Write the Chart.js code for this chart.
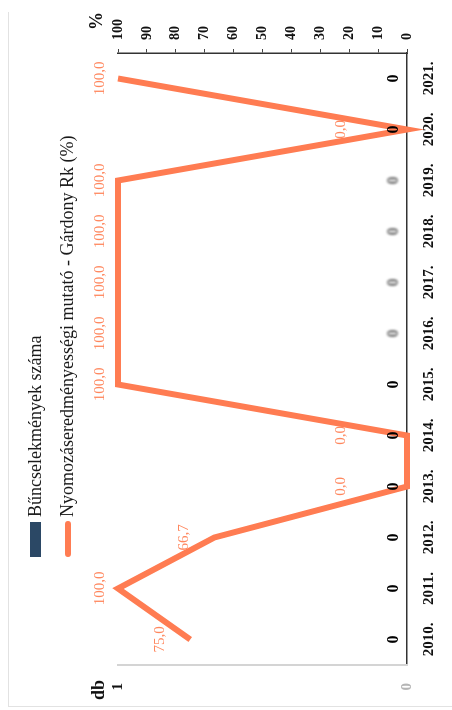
<!DOCTYPE html>
<html>
<head>
<meta charset="utf-8">
<script src="https://cdn.jsdelivr.net/npm/chart.js@4"></script>
<style>
  html, body { margin: 0; padding: 0; background: #fff; overflow: hidden; }
  #page { position: absolute; left: 0; top: 0; width: 452px; height: 710px; }
  #frameLeft { position: absolute; left: 8px; top: 12px; width: 1px; height: 694px; background: #e2e2e2; }
  #frameBottom { position: absolute; left: 8px; top: 706px; width: 444px; height: 1px; background: #e2e2e2; }
  /* chart is drawn in landscape and turned a quarter left, like the scanned page */
  #rot { position: absolute; left: 0; top: 0; width: 710px; height: 452px;
         transform-origin: 0 0; transform: translateY(710px) rotate(-90deg); }
</style>
</head>
<body>
<div id="page">
  <div id="frameLeft"></div>
  <div id="frameBottom"></div>
  <div id="rot"><canvas id="chart" width="710" height="452"></canvas></div>
</div>
<script>
// --- data ---
const years = ["2010.", "2011.", "2012.", "2013.", "2014.", "2015.", "2016.", "2017.", "2018.", "2019.", "2020.", "2021."];
const crimeCounts = [0, 0, 0, 0, 0, 0, 0, 0, 0, 0, 0, 0];
const clearanceRate = [75.0, 100.0, 66.7, 0.0, 0.0, 100.0, 100.0, 100.0, 100.0, 100.0, 0.0, 100.0];
const countTicks = [0, 1];
const percentTicks = [0, 10, 20, 30, 40, 50, 60, 70, 80, 90, 100];
const fadedYears = ["2016.", "2017.", "2018.", "2019."];

const barLabel = "Bűncselekmények száma";
const lineLabel = "Nyomozáseredményességi mutató - Gárdony Rk (%)";

const BAR_COLOR = "#2b4865";
const LINE_COLOR = "#ff7c52";
const LABEL_ORANGE = "#ff875e";
const SERIF = "'Liberation Serif', 'DejaVu Serif', serif";

Chart.defaults.font.family = SERIF;
Chart.defaults.color = "#111";

const fmt = v => v.toFixed(1).replace(".", ",");

// data labels, legend and axis unit captions
const decorations = {
  id: "decorations",
  afterDatasetsDraw(chart) {
    const ctx = chart.ctx;
    const barMeta = chart.getDatasetMeta(0);
    const lineMeta = chart.getDatasetMeta(1);
    ctx.save();
    ctx.textAlign = "center";
    ctx.textBaseline = "middle";

    // bar values
    ctx.font = "bold 16px " + SERIF;
    barMeta.data.forEach((bar, i) => {
      const faded = fadedYears.includes(years[i]);
      ctx.fillStyle = faded ? "#6a6a6a" : "#000";
      ctx.filter = faded ? "blur(1.2px)" : "none";
      ctx.fillText(String(crimeCounts[i]), bar.x, bar.y - 13);
    });
    ctx.filter = "none";

    // line values
    ctx.font = "15px " + SERIF;
    ctx.fillStyle = LABEL_ORANGE;
    lineMeta.data.forEach((pt, i) => {
      const v = clearanceRate[i];
      const off = v === 0 ? 66 : (v < 90 ? 30 : 18);
      ctx.fillText(fmt(v), pt.x, pt.y - off);
    });
    ctx.restore();
  },
  afterDraw(chart) {
    const ctx = chart.ctx;
    ctx.save();
    // legend
    ctx.fillStyle = BAR_COLOR;
    ctx.fillRect(153, 30, 35, 11);
    ctx.strokeStyle = LINE_COLOR;
    ctx.lineWidth = 6;
    ctx.lineCap = "round";
    ctx.beginPath();
    ctx.moveTo(156, 68);
    ctx.lineTo(186, 68);
    ctx.stroke();
    ctx.fillStyle = "#1a1a1a";
    ctx.font = "18px " + SERIF;
    ctx.textAlign = "left";
    ctx.textBaseline = "middle";
    ctx.fillText(barLabel, 193, 36);
    ctx.fillText(lineLabel, 193, 68);
    // unit captions
    ctx.font = "bold 18px " + SERIF;
    ctx.textAlign = "center";
    ctx.fillStyle = "#111";
    ctx.fillText("db", 20, 99);
    ctx.fillText("%", 689, 97);
    ctx.restore();
  }
};

new Chart(document.getElementById("chart"), {
  type: "bar",
  data: {
    labels: years,
    datasets: [{
      label: barLabel,
      data: crimeCounts,
      backgroundColor: BAR_COLOR,
      yAxisID: "y",
      order: 2
    }, {
      type: "line",
      label: lineLabel,
      data: clearanceRate,
      borderColor: LINE_COLOR,
      borderWidth: 6,
      pointRadius: 0,
      tension: 0,
      clip: false,
      yAxisID: "y1",
      order: 1
    }]
  },
  options: {
    responsive: false,
    animation: false,
    layout: { padding: { top: 118, left: 0, right: 0, bottom: 0 } },
    plugins: {
      legend: { display: false },
      tooltip: { enabled: false }
    },
    scales: {
      x: {
        grid: { display: false, drawTicks: false },
        border: { display: true, color: "#333", width: 1.5 },
        ticks: { padding: 13, font: { size: 15, weight: "bold" }, color: "#111" },
        afterFit: s => { s.height = 45; }
      },
      y: {
        position: "left",
        min: 0,
        max: 1,
        grid: { display: false, drawTicks: false },
        border: { display: true, color: "#d4d4d4", width: 2 },
        afterBuildTicks: s => { s.ticks = countTicks.map(v => ({ value: v })); },
        ticks: {
          padding: 18,
          font: { size: 15, weight: "bold" },
          color: c => (c.tick && c.tick.value === 0 ? "#b5b5b5" : "#111")
        },
        afterFit: s => { s.width = 45; }
      },
      y1: {
        position: "right",
        min: 0,
        max: 100,
        grid: { drawOnChartArea: false, drawTicks: true, tickLength: 4, color: "#444" },
        border: { display: true, color: "#333", width: 1.5 },
        afterBuildTicks: s => { s.ticks = percentTicks.map(v => ({ value: v })); },
        ticks: { padding: 9, font: { size: 14, weight: "bold" }, color: "#111" },
        afterFit: s => { s.width = 53; }
      }
    }
  },
  plugins: [decorations]
});
</script>
</body>
</html>
